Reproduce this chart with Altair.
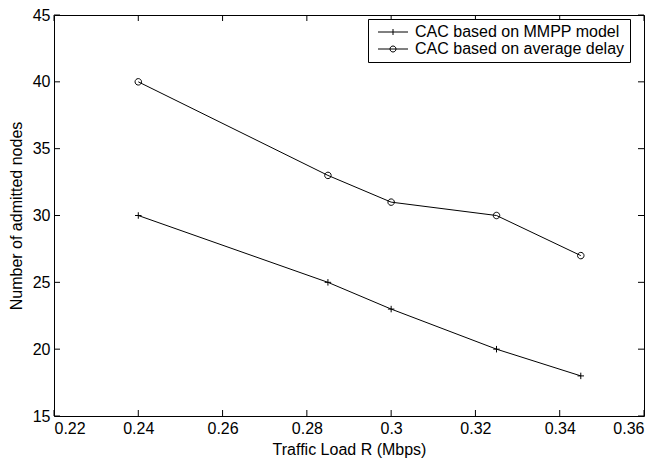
import altair as alt
import pandas as pd

x_vals = [0.24, 0.285, 0.3, 0.325, 0.345]
mmpp_vals = [30, 25, 23, 20, 18]
delay_vals = [40, 33, 31, 30, 27]
series_names = ["CAC based on MMPP model", "CAC based on average delay"]
x_ticks = [0.22, 0.24, 0.26, 0.28, 0.30, 0.32, 0.34, 0.36]
y_ticks = [15, 20, 25, 30, 35, 40, 45]

rows = []
for x, v in zip(x_vals, mmpp_vals):
    rows.append({"x": x, "y": v, "series": series_names[0]})
for x, v in zip(x_vals, delay_vals):
    rows.append({"x": x, "y": v, "series": series_names[1]})
df = pd.DataFrame(rows)
xt_df = pd.DataFrame({"x": x_ticks})
yt_df = pd.DataFrame({"y": y_ticks})

FONT = "Liberation Sans"
FS = 16
W, H = 590, 401
TICK = 6
PLUS = "M-1,0L1,0M0,-1L0,1"
CIRCLE = "M-1,0A1,1 0 1,0 1,0A1,1 0 1,0 -1,0"
LEG_PLUS = "M-5,0L5,0M0,-1L0,1"
LEG_CIRCLE = "M-5,0L5,0M-1,0A1,1 0 1,0 1,0A1,1 0 1,0 -1,0"

xs = alt.Scale(domain=[0.22, 0.36], nice=False, zero=False)
ys = alt.Scale(domain=[15, 45], nice=False, zero=False)

x_axis = alt.Axis(orient="bottom", values=x_ticks, format="~g", domain=False,
                  grid=False, ticks=False, labelPadding=4,
                  title="Traffic Load R (Mbps)", titlePadding=5)
y_axis = alt.Axis(orient="left", values=y_ticks, format="~g", domain=False,
                  grid=False, ticks=False, labelPadding=4,
                  title="Number of admitted nodes", titlePadding=8)

X = alt.X("x:Q", scale=xs, axis=x_axis)
Y = alt.Y("y:Q", scale=ys, axis=y_axis)

base = alt.Chart(df)

lines = base.mark_line(color="black", strokeWidth=1).encode(
    x=X, y=Y, detail="series:N",
)

pts = base.mark_point(filled=False, stroke="black", strokeWidth=1, size=42, opacity=1).encode(
    x=X, y=Y,
    shape=alt.Shape("series:N", scale=alt.Scale(domain=series_names, range=[PLUS, CIRCLE]),
                    legend=None),
)

# inward tick marks on all four sides
xt = alt.Chart(xt_df)
yt = alt.Chart(yt_df)
tick_bottom = xt.mark_rule(color="black", strokeWidth=1).encode(
    x=X, y=alt.value(H - TICK), y2=alt.value(H))
tick_top = xt.mark_rule(color="black", strokeWidth=1).encode(
    x=X, y=alt.value(0), y2=alt.value(TICK))
tick_left = yt.mark_rule(color="black", strokeWidth=1).encode(
    y=Y, x=alt.value(0), x2=alt.value(TICK))
tick_right = yt.mark_rule(color="black", strokeWidth=1).encode(
    y=Y, x=alt.value(W - TICK), x2=alt.value(W))

leg = base.transform_filter("false").mark_point(
    filled=False, stroke="black", strokeWidth=1, size=36, opacity=1
).encode(
    x=X, y=Y,
    shape=alt.Shape("series:N",
                    scale=alt.Scale(domain=series_names, range=[LEG_PLUS, LEG_CIRCLE]),
                    legend=alt.Legend(title=None, orient="none", legendX=314, legendY=4,
                                      strokeColor="black", fillColor="white",
                                      padding=5, symbolSize=36, symbolOffset=12,
                                      labelOffset=14, rowPadding=1, labelLimit=400,
                                      symbolStrokeColor="black", symbolStrokeWidth=1,
                                      symbolFillColor="transparent",
                                      labelFont=FONT, labelFontSize=FS,
                                      labelColor="black", cornerRadius=0)),
)

chart = alt.layer(lines, pts, tick_bottom, tick_top, tick_left, tick_right, leg).resolve_scale(
    shape="independent"
).properties(
    width=W, height=H,
    autosize=alt.AutoSizeParams(type="none"),
    padding={"left": 46, "top": 7, "right": 7, "bottom": 44},
    background="white",
).configure_view(stroke="black", strokeWidth=1).configure_axis(
    labelFont=FONT, labelFontSize=FS, labelColor="black",
    titleFont=FONT, titleFontSize=FS, titleColor="black", titleFontWeight="normal",
)

chart.save("out.html", embed_options={"renderer": "svg", "actions": False})
